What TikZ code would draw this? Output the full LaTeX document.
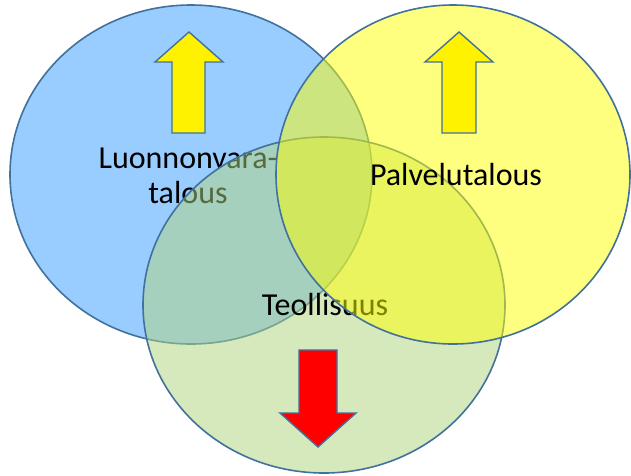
\documentclass[tikz,border=0pt]{standalone}
\usepackage{fontspec}
\setmainfont{Carlito}
\begin{document}
\begin{tikzpicture}[x=1pt,y=-1pt,
  outl/.style={draw=edgecol,line width=1.6pt},
  circ/.style={outl},
  lbl/.style={inner sep=0pt,font=\fontsize{32}{35}\selectfont,text=black},
  uparrow/.style={outl,line width=1.4pt,fill=yellow},
  downarrow/.style={outl,line width=1.4pt,fill=red}]
\definecolor{edgecol}{RGB}{65,113,156}
\definecolor{bluefill}{RGB}{153,204,255}
\definecolor{greenbase}{RGB}{175,213,125}
\definecolor{yellowbase}{RGB}{255,255,0}
\useasboundingbox (0,0) rectangle (631,475);
\fill[white] (0,0) rectangle (631,475);
% blue circle
\draw[circ,fill=bluefill] (191,174.5) ellipse [x radius=181,y radius=169.5];
\node[lbl,align=center] (luo) at (188,176) {Luonnonvara-\\talous};
\draw[uparrow] (189,32) -- (223,62) -- (205,62) -- (205,133) -- (172,133) -- (172,62) -- (155,62) -- cycle;
% green circle
\draw[circ,fill=greenbase,fill opacity=0.5] (324,305) ellipse [x radius=181,y radius=168];
\node[lbl,anchor=base] (teo) at (325,315) {Teollisuus};
% yellow circle
\draw[circ,fill=yellowbase,fill opacity=0.5] (453,174.5) ellipse [x radius=177,y radius=169.5];
\node[lbl,anchor=base] (pal) at (456,185) {Palvelutalous};
\draw[uparrow] (459,32) -- (493,62) -- (476,62) -- (476,133) -- (442,133) -- (442,62) -- (425,62) -- cycle;
\draw[downarrow] (299,350) -- (337,350) -- (337,413) -- (356,413) -- (318,447) -- (280,413) -- (299,413) -- cycle;
\end{tikzpicture}
\end{document}
